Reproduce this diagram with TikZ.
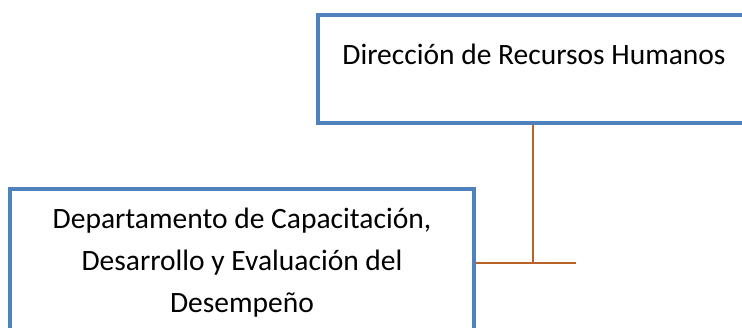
\documentclass[tikz,border=0pt]{standalone}
\usepackage{fontspec}
\setmainfont{Carlito}
\usetikzlibrary{positioning}
\definecolor{boxblue}{RGB}{79,129,189}
\definecolor{linkbrown}{RGB}{184,98,40}
\tikzset{
  unitbox/.style={draw=boxblue, line width=4pt, inner sep=0pt},
  unittext/.style={font=\fontsize{29.5}{42}\selectfont, align=center, inner sep=0pt},
  link/.style={draw=linkbrown, line width=1.5pt}
}
\begin{document}
\begin{tikzpicture}[x=1pt,y=-1pt]
\useasboundingbox (0,0) rectangle (742,327);
\clip (0,0) rectangle (742,327);
% boxes
\node[unitbox, minimum width=430pt, minimum height=108pt] (rrhh) at (533,69) {};
\node[unitbox, minimum width=464pt, minimum height=170pt] (capac) at (242,274) {};
% texts
\node[unittext, anchor=base] (rrhhtxt) at (534,64) {Dirección de Recursos Humanos};
\node[unittext, anchor=base] (capactxt) at (242,312) {Departamento de Capacitación,\\ Desarrollo y Evaluación del\\ Desempeño};
% connectors
\coordinate (joint) at (533,263);
\coordinate (tip) at (576,263);
\draw[link] (rrhh.south) -- (joint);
\draw[link] (capac.east |- joint) -- (tip);
\end{tikzpicture}
\end{document}
